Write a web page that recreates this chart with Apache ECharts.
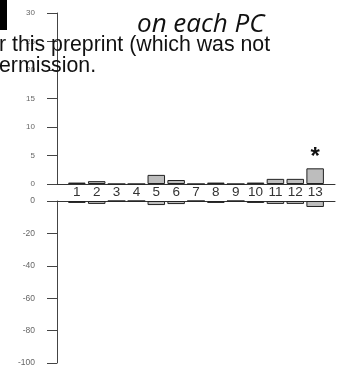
<!DOCTYPE html>
<html>
<head>
<meta charset="utf-8">
<script src="https://cdn.jsdelivr.net/npm/echarts@6/dist/echarts.min.js"></script>
<style>
html,body{margin:0;padding:0;background:#fff;}
#c{width:351px;height:371px;}
</style>
</head>
<body>
<div id="c"></div>
<script>
var pcs = ['1','2','3','4','5','6','7','8','9','10','11','12','13'];
var upperValues = [0.25, 0.5, 0, 0, 1.6, 0.7, 0, 0.25, 0, 0.25, 0.9, 0.9, 2.75];
var lowerValues = [-1.2, -1.8, 0, 0, -2.5, -1.9, 0, -1.2, 0, -1.2, -1.8, -1.8, -3.7];
var significance = ['', '', '', '', '', '', '', '', '', '', '', '', '*'];
var upperTicks = [0, 5, 10, 15, 20, 25, 30];
var lowerTicks = [0, -20, -40, -60, -80, -100];
var titleText = 'on each PC';
var noticeLines = ['r this preprint (which was not', 'ermission.'];

var chart = echarts.init(document.getElementById('c'), null, {renderer: 'canvas'});

function upperData() {
  return upperValues.map(function (v, i) {
    var item = {value: [i + 1, v]};
    if (significance[i]) {
      item.label = {show: true, formatter: significance[i]};
    }
    return item;
  });
}
function lowerData() {
  return lowerValues.map(function (v, i) { return [i + 1, v]; });
}

var barStyle = {color: '#bdbdbd', borderColor: '#222', borderWidth: 1};

var option = {
  animation: false,
  backgroundColor: '#fff',
  grid: [
    {left: 57, right: 16, top: 13, height: 171},
    {left: 57, right: 16, top: 201, height: 162}
  ],
  xAxis: [
    {
      type: 'value', gridIndex: 0, min: 0, max: 14, interval: 1,
      axisLine: {show: true, onZero: true, lineStyle: {color: '#333', width: 1}},
      axisTick: {show: false},
      splitLine: {show: false},
      axisLabel: {
        margin: 1, fontSize: 13.5, color: '#333', fontFamily: 'Liberation Sans, Arial',
        formatter: function (v) { return (v >= 1 && v <= pcs.length) ? pcs[v - 1] : ''; }
      }
    },
    {
      type: 'value', gridIndex: 1, min: 0, max: 14, interval: 1, position: 'top',
      axisLine: {show: true, onZero: true, lineStyle: {color: '#333', width: 1}},
      axisTick: {show: false},
      splitLine: {show: false},
      axisLabel: {show: false}
    }
  ],
  yAxis: [
    {
      type: 'value', gridIndex: 0,
      min: upperTicks[0], max: upperTicks[upperTicks.length - 1], interval: upperTicks[1] - upperTicks[0],
      axisLine: {show: true, lineStyle: {color: '#444', width: 1}},
      axisTick: {show: true, length: 10, lineStyle: {color: '#444'}},
      splitLine: {show: false},
      axisLabel: {margin: 22, fontSize: 8, color: '#666', fontFamily: 'Liberation Sans, Arial'}
    },
    {
      type: 'value', gridIndex: 1,
      min: lowerTicks[lowerTicks.length - 1], max: lowerTicks[0], interval: lowerTicks[0] - lowerTicks[1],
      axisLine: {show: true, lineStyle: {color: '#444', width: 1}},
      axisTick: {show: true, length: 10, lineStyle: {color: '#444'}},
      splitLine: {show: false},
      axisLabel: {margin: 22, fontSize: 8.5, color: '#666', fontFamily: 'Liberation Sans, Arial'}
    }
  ],
  series: [
    {
      type: 'bar', xAxisIndex: 0, yAxisIndex: 0, barWidth: 17.5,
      itemStyle: barStyle,
      label: {show: false, position: 'top', distance: -1, fontSize: 24, fontWeight: 'bold', color: '#111', fontFamily: 'Liberation Sans, Arial'},
      data: upperData()
    },
    {
      type: 'bar', xAxisIndex: 1, yAxisIndex: 1, barWidth: 17.5,
      itemStyle: barStyle,
      data: lowerData()
    }
  ],
  graphic: [
    {type: 'rect', shape: {x: 0, y: 0, width: 7, height: 30}, style: {fill: '#000'}, silent: true},
    {type: 'text', x: 137, y: 25, silent: true,
      style: {text: titleText, font: 'italic 26px "Open Sans"', fill: '#111', textAlign: 'left', textVerticalAlign: 'middle'}},
    {type: 'text', x: -1, y: 45.3, silent: true, z: 100,
      style: {text: noticeLines[0], font: '21.3px "Liberation Sans", Arial', fill: '#111', textAlign: 'left', textVerticalAlign: 'middle'}},
    {type: 'text', x: -1, y: 65.9, silent: true, z: 100,
      style: {text: noticeLines[1], font: '21.3px "Liberation Sans", Arial', fill: '#111', textAlign: 'left', textVerticalAlign: 'middle'}}
  ]
};
chart.setOption(option);
</script>
</body>
</html>
